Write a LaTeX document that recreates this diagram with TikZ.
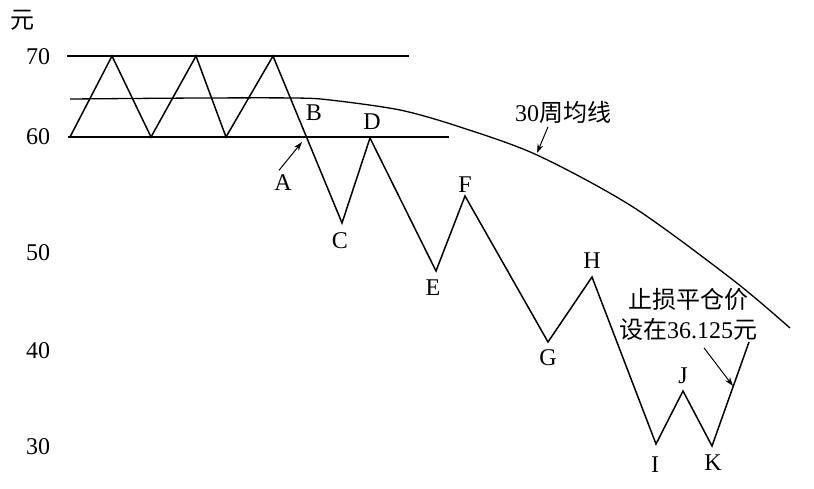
\documentclass[tikz,border=0pt]{standalone}
\usepackage{fontspec}
\setmainfont{Liberation Serif}
\newfontfamily\cjk{Noto Sans CJK SC}
\usetikzlibrary{arrows.meta}

\begin{document}
\begin{tikzpicture}[x=1pt,y=-1pt,line width=1.5pt,
  lbl/.style={font=\fontsize{24}{26}\selectfont,inner sep=1pt},
  note/.style={font=\fontsize{24}{30}\selectfont,inner sep=1pt},
  arr/.style={line width=1pt,-{Stealth[length=9pt,width=6pt]}}]
\useasboundingbox (0,0) rectangle (814,488);
% price scale
\node[note] (yuan) at (22,20) {\cjk 元};
\node[lbl] (v70) at (38,57) {70};
\node[lbl] (v60) at (38,137) {60};
\node[lbl] (v50) at (38,253) {50};
\node[lbl] (v40) at (38,351) {40};
\node[lbl] (v30) at (38,447) {30};
% channel lines
\draw (67,56) -- (409,56);
\draw (68,137) -- (449,137);
% 30 week average
\draw[line width=1.3pt] plot[smooth,tension=0.5] coordinates {(70,99) (200,98) (295,98) (330,100) (400,110) (460,127) (537,155) (633,207) (733,280) (790,328)};
% price path
\coordinate (p0) at (70,137);
\coordinate (t1) at (112,56);
\coordinate (b1) at (151,137);
\coordinate (t2) at (196,56);
\coordinate (b2) at (226,137);
\coordinate (t3) at (273,56);
\coordinate (pC) at (342,223);
\coordinate (pD) at (370,138);
\coordinate (pE) at (436,271);
\coordinate (pF) at (465,196);
\coordinate (pG) at (548,342);
\coordinate (pH) at (592,277);
\coordinate (pI) at (656,444);
\coordinate (pJ) at (683,391);
\coordinate (pK) at (712,446);
\coordinate (pend) at (749,342);
\draw[line join=miter] (p0) -- (t1) -- (b1) -- (t2) -- (b2) -- (t3) -- (pC) -- (pD) -- (pE) -- (pF) -- (pG) -- (pH) -- (pI) -- (pJ) -- (pK) -- (pend);
% point labels
\node[lbl] (B) at (314,113) {B};
\node[lbl] (D) at (372,122) {D};
\node[lbl] (A) at (283,183) {A};
\node[lbl] (C) at (340,241) {C};
\node[lbl] (E) at (433,288) {E};
\node[lbl] (F) at (465,185) {F};
\node[lbl] (G) at (548,358) {G};
\node[lbl] (H) at (592,261) {H};
\node[lbl] (I) at (655,465) {I};
\node[lbl] (J) at (683,376) {J};
\node[lbl] (K) at (713,463) {K};
% notes
\node[note] (ma) at (563,112) {30{\cjk 周均线}};
\node[note,align=center] (stop) at (688,314) {{\cjk 止损平仓价}\\{\cjk 设在}36.125{\cjk 元}};
\coordinate (Atip) at (302,142);
\coordinate (matip) at (537,153);
\coordinate (stoptip) at (733,386);
\draw[arr] ([xshift=-4pt,yshift=3pt]A.north) -- (Atip);
\draw[arr] ([xshift=-15pt,yshift=-2pt]ma.south) -- (matip);
\draw[arr] ([xshift=16pt,yshift=-6pt]stop.south) -- (stoptip);
\end{tikzpicture}
\end{document}
